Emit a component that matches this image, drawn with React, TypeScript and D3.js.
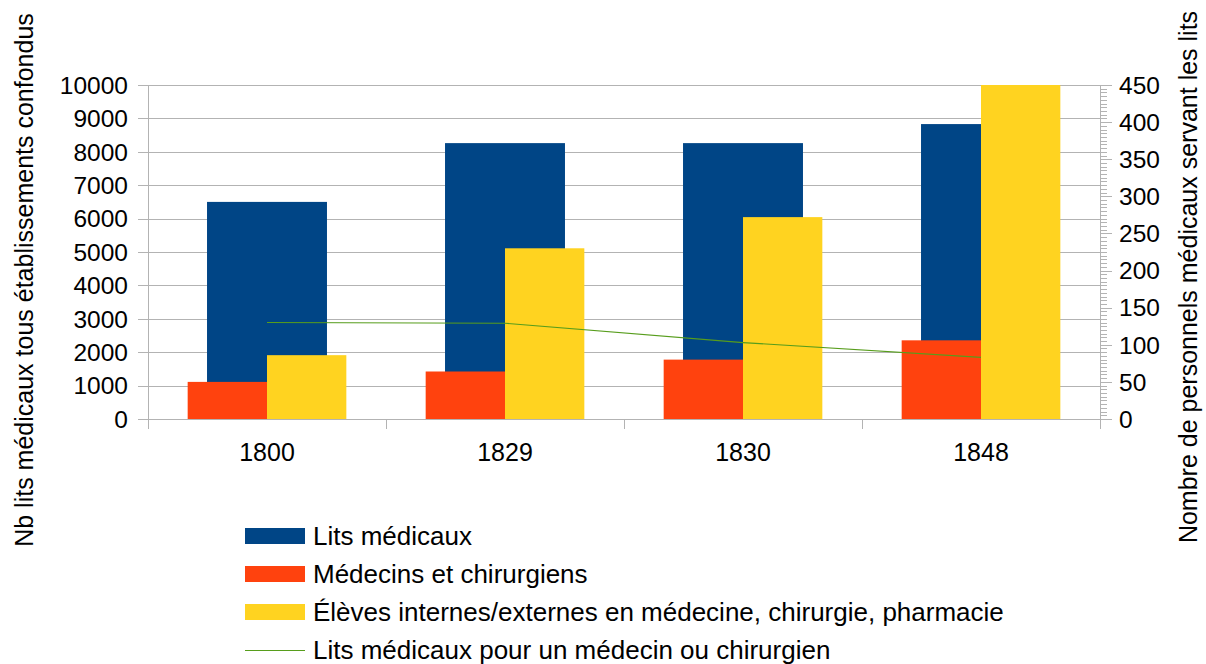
import { useEffect, useRef } from "react";
import * as d3 from "d3";

// Data
const years = ["1800", "1829", "1830", "1848"];
const litsMedicaux = [6500, 8260, 8260, 8830]; // left axis
const medecins = [50, 64, 80, 106]; // right axis
const eleves = [86, 230, 272, 450]; // right axis
const litsParMedecin = [130, 129, 103, 83]; // right axis

const leftTicks = d3.range(0, 10001, 1000);
const rightTicks = d3.range(0, 451, 50);
const rightMinorTicks = d3.range(0, 451, 5);

const legendItems = [
  { label: "Lits médicaux", color: "#004586", type: "rect" },
  { label: "Médecins et chirurgiens", color: "#ff420e", type: "rect" },
  { label: "Élèves internes/externes en médecine, chirurgie, pharmacie", color: "#ffd320", type: "rect" },
  { label: "Lits médicaux pour un médecin ou chirurgien", color: "#579d1c", type: "line" },
];

export default function App() {
  const chartRef = useRef<HTMLDivElement | null>(null);

  useEffect(() => {
    const container = d3.select(chartRef.current);
    container.selectAll("*").remove();

    const width = 1206;
    const height = 664;
    const margin = { top: 85, right: 106, bottom: 245, left: 148 };
    const x0 = margin.left;
    const x1 = width - margin.right;
    const y0 = height - margin.bottom; // 419
    const y1 = margin.top;
    const axisColor = "#b3b3b3";
    const font = "'Liberation Sans', Arial, sans-serif";

    const svg = container
      .append("svg")
      .attr("width", width)
      .attr("height", height)
      .style("position", "absolute")
      .style("left", 0)
      .style("top", 0)
      .style("font-family", font);

    svg.append("rect").attr("width", width).attr("height", height).attr("fill", "#fff");

    // Scales
    const xScale = d3.scaleBand().domain(years).range([x0, x1]).padding(0);
    const xInner = d3
      .scaleBand()
      .domain(["med", "eleves"])
      .range([0, xScale.bandwidth()])
      .paddingInner(0)
      .paddingOuter(0.5);
    const yLeft = d3.scaleLinear().domain([0, 10000]).range([y0, y1]);
    const yRight = d3.scaleLinear().domain([0, 450]).range([y0, y1]);

    // Gridlines
    svg
      .append("g")
      .selectAll("line")
      .data(leftTicks)
      .enter()
      .append("line")
      .attr("x1", x0)
      .attr("x2", x1)
      .attr("y1", (d) => Math.round(yLeft(d)) + 0.5)
      .attr("y2", (d) => Math.round(yLeft(d)) + 0.5)
      .attr("stroke", axisColor)
      .attr("stroke-width", 1);

    // Blue bars (behind)
    const blueWidth = xScale.bandwidth() * 0.504;
    svg
      .append("g")
      .selectAll("rect")
      .data(years)
      .enter()
      .append("rect")
      .attr("x", (d) => xScale(d)! + xScale.bandwidth() / 2 - blueWidth / 2)
      .attr("y", (d, i) => yLeft(litsMedicaux[i]))
      .attr("width", blueWidth)
      .attr("height", (d, i) => y0 - yLeft(litsMedicaux[i]))
      .attr("fill", "#004586");

    // Red and yellow bars (secondary axis)
    const groups = svg
      .append("g")
      .selectAll("g")
      .data(years)
      .enter()
      .append("g")
      .attr("transform", (d) => `translate(${xScale(d)},0)`);

    groups
      .append("rect")
      .attr("x", xInner("med")!)
      .attr("y", (d, i) => yRight(medecins[i]))
      .attr("width", xInner.bandwidth())
      .attr("height", (d, i) => y0 - yRight(medecins[i]))
      .attr("fill", "#ff420e");

    groups
      .append("rect")
      .attr("x", xInner("eleves")!)
      .attr("y", (d, i) => yRight(eleves[i]))
      .attr("width", xInner.bandwidth())
      .attr("height", (d, i) => y0 - yRight(eleves[i]))
      .attr("fill", "#ffd320");

    // Green line
    const line = d3
      .line<number>()
      .x((d, i) => xScale(years[i])! + xScale.bandwidth() / 2)
      .y((d) => yRight(d));
    svg
      .append("path")
      .datum(litsParMedecin)
      .attr("d", line)
      .attr("fill", "none")
      .attr("stroke", "#579d1c")
      .attr("stroke-width", 1.2);

    // Left axis
    const gl = svg.append("g");
    gl.append("line")
      .attr("x1", x0 + 0.5)
      .attr("x2", x0 + 0.5)
      .attr("y1", y1)
      .attr("y2", y0 + 10)
      .attr("stroke", axisColor);
    gl.selectAll(".tick")
      .data(leftTicks)
      .enter()
      .append("line")
      .attr("x1", x0 - 10)
      .attr("x2", x0)
      .attr("y1", (d) => Math.round(yLeft(d)) + 0.5)
      .attr("y2", (d) => Math.round(yLeft(d)) + 0.5)
      .attr("stroke", axisColor);
    gl.selectAll("text")
      .data(leftTicks)
      .enter()
      .append("text")
      .attr("x", 128)
      .attr("y", (d) => yLeft(d))
      .attr("dy", "0.36em")
      .attr("text-anchor", "end")
      .attr("font-size", 24.5)
      .text((d) => d);

    // Right axis
    const gr = svg.append("g");
    gr.append("line")
      .attr("x1", x1 + 0.5)
      .attr("x2", x1 + 0.5)
      .attr("y1", y1)
      .attr("y2", y0)
      .attr("stroke", axisColor);
    gr.selectAll(".minor")
      .data(rightMinorTicks)
      .enter()
      .append("line")
      .attr("x1", x1)
      .attr("x2", (d) => (d % 50 === 0 ? x1 + 12 : x1 + 7))
      .attr("y1", (d) => Math.round(yRight(d)) + 0.5)
      .attr("y2", (d) => Math.round(yRight(d)) + 0.5)
      .attr("stroke", axisColor);
    gr.selectAll("text")
      .data(rightTicks)
      .enter()
      .append("text")
      .attr("x", 1119)
      .attr("y", (d) => yRight(d))
      .attr("dy", "0.36em")
      .attr("text-anchor", "start")
      .attr("font-size", 24.5)
      .text((d) => d);

    // Bottom axis
    const gb = svg.append("g");
    gb.append("line")
      .attr("x1", x0)
      .attr("x2", x1)
      .attr("y1", y0 + 0.5)
      .attr("y2", y0 + 0.5)
      .attr("stroke", axisColor);
    gb.selectAll(".sep")
      .data(years.slice(1))
      .enter()
      .append("line")
      .attr("x1", (d) => Math.round(xScale(d)!) + 0.5)
      .attr("x2", (d) => Math.round(xScale(d)!) + 0.5)
      .attr("y1", y0)
      .attr("y2", y0 + 10)
      .attr("stroke", axisColor);
    gb.append("line")
      .attr("x1", x1 + 0.5)
      .attr("x2", x1 + 0.5)
      .attr("y1", y0)
      .attr("y2", y0 + 10)
      .attr("stroke", axisColor);
    gb.selectAll("text")
      .data(years)
      .enter()
      .append("text")
      .attr("x", (d) => xScale(d)! + xScale.bandwidth() / 2)
      .attr("y", 461)
      .attr("text-anchor", "middle")
      .attr("font-size", 25)
      .text((d) => d);

    // Axis titles
    svg
      .append("text")
      .attr("transform", "translate(24,280) rotate(-90)")
      .attr("text-anchor", "middle")
      .attr("dy", "0.36em")
      .attr("font-size", 25)
      .text("Nb lits médicaux tous établissements confondus");
    svg
      .append("text")
      .attr("transform", "translate(1188,277) rotate(-90)")
      .attr("text-anchor", "middle")
      .attr("dy", "0.36em")
      .attr("font-size", 25)
      .text("Nombre de personnels médicaux servant les lits");

    // Legend
    const legend = svg
      .append("g")
      .selectAll("g")
      .data(legendItems)
      .enter()
      .append("g")
      .attr("transform", (d, i) => `translate(245,${536 + i * 38})`);
    legend
      .filter((d) => d.type === "rect")
      .append("rect")
      .attr("x", 0)
      .attr("y", -8)
      .attr("width", 60)
      .attr("height", 16)
      .attr("fill", (d) => d.color);
    legend
      .filter((d) => d.type === "line")
      .append("line")
      .attr("x1", 0)
      .attr("x2", 60)
      .attr("y1", 0.5)
      .attr("y2", 0.5)
      .attr("stroke", (d) => d.color)
      .attr("stroke-width", 1.2);
    legend
      .append("text")
      .attr("x", 68)
      .attr("y", 0)
      .attr("dy", "0.36em")
      .attr("font-size", 26)
      .text((d) => d.label);
  }, []);

  return <div ref={chartRef} className="chart-container"></div>;
}
